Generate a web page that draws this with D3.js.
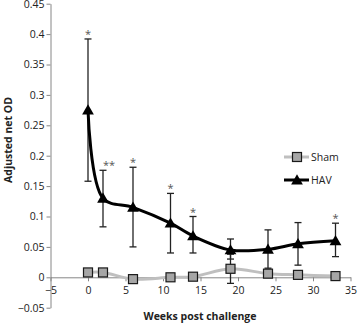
<!DOCTYPE html>
<html>
<head>
<meta charset="utf-8">
<script src="https://cdn.jsdelivr.net/npm/d3@7"></script>
<style>
  body { margin: 0; background: #fff; }
  text { font-family: "Open Sans", "Liberation Sans", sans-serif; }
</style>
</head>
<body>
<div id="chart"></div>
<script>
let weeks = [0, 2, 6, 11, 14, 19, 24, 28, 33]

let havValues = [0.275, 0.13, 0.115, 0.089, 0.068, 0.045, 0.046, 0.055, 0.06]
let havUpper = [0.392, 0.176, 0.181, 0.138, 0.1, 0.063, 0.078, 0.09, 0.089]
let havLower = [0.158, 0.083, 0.05, 0.04, 0.04, 0.03, 0.015, 0.02, 0.034]
let havStars = ["*", "**", "*", "*", "*", "", "", "", "*"]

let shamValues = [0.008, 0.008, -0.003, 0, 0.001, 0.014, 0.006, 0.004, 0.002]
let shamUpper = [0.008, 0.008, -0.003, 0, 0.001, 0.038, 0.006, 0.004, 0.002]
let shamLower = [0.008, 0.008, -0.003, 0, 0.001, -0.01, 0.006, 0.004, 0.002]

let xTicks = [-5, 0, 5, 10, 15, 20, 25, 30, 35]
let yTicks = [-0.05, 0, 0.05, 0.1, 0.15, 0.2, 0.25, 0.3, 0.35, 0.4, 0.45]

const width = 358, height = 323

const svg = d3.select('#chart')
    .append('svg')
    .attr('width', width)
    .attr('height', height)

const x = d3.scaleLinear().domain([-5, 35]).range([50.5, 350.5])
const y = d3.scaleLinear().domain([-0.05, 0.45]).range([307.7, 3.7])

const axisColor = '#868686'

// y axis
const yAxis = svg.append('g')
    .attr('transform', `translate(${x(-5)},0)`)
    .call(d3.axisLeft(y).tickValues(yTicks).tickSize(4).tickSizeOuter(0)
        .tickFormat(d => d3.format('')(+d.toFixed(2))))
yAxis.select('.domain').attr('stroke', axisColor)
yAxis.selectAll('.tick line').attr('stroke', axisColor)
yAxis.selectAll('.tick text')
    .attr('font-size', 10.5)
    .attr('fill', '#222')
    .attr('x', -6)

// x axis along zero
const xAxis = svg.append('g')
    .attr('transform', `translate(0,${y(0)})`)
    .call(d3.axisBottom(x).tickValues(xTicks).tickSize(4).tickSizeOuter(0))
xAxis.select('.domain').attr('stroke', axisColor)
xAxis.selectAll('.tick line').attr('stroke', axisColor)
xAxis.selectAll('.tick text')
    .attr('font-size', 10.5)
    .attr('fill', '#222')
    .attr('y', 9)

// axis titles
svg.append('text')
    .text('Weeks post challenge')
    .attr('x', 200)
    .attr('y', 320)
    .attr('text-anchor', 'middle')
    .attr('font-size', 10.5)
    .attr('font-weight', 'bold')
    .attr('fill', '#222')

svg.append('text')
    .text('Adjusted net OD')
    .attr('transform', 'translate(12,140) rotate(-90)')
    .attr('text-anchor', 'middle')
    .attr('font-size', 10.5)
    .attr('font-weight', 'bold')
    .attr('fill', '#222')

const line = d3.line()
    .x(d => x(d[0]))
    .y(d => y(d[1]))
    .curve(d3.curveCatmullRom)

const sham = weeks.map((w, i) => ({ w: w, v: shamValues[i], hi: shamUpper[i], lo: shamLower[i] }))
const hav = weeks.map((w, i) => ({ w: w, v: havValues[i], hi: havUpper[i], lo: havLower[i], star: havStars[i] }))

function drawErrors(data, cls) {
    const g = svg.append('g').attr('class', cls)
    data.filter(d => d.hi !== d.lo).forEach(d => {
        g.append('line')
            .attr('x1', x(d.w)).attr('x2', x(d.w))
            .attr('y1', y(d.hi)).attr('y2', y(d.lo))
            .attr('stroke', '#222').attr('stroke-width', 1.3)
        ;[d.hi, d.lo].forEach(v => {
            g.append('line')
                .attr('x1', x(d.w) - 3.5).attr('x2', x(d.w) + 3.5)
                .attr('y1', y(v)).attr('y2', y(v))
                .attr('stroke', '#222').attr('stroke-width', 1.3)
        })
    })
}

// sham series
svg.append('path')
    .datum(sham.map(d => [d.w, d.v]))
    .attr('d', line)
    .attr('fill', 'none')
    .attr('stroke', '#bfbfbf')
    .attr('stroke-width', 3)

drawErrors(sham, 'sham-err')
drawErrors(hav, 'hav-err')

svg.append('g')
    .selectAll('rect')
    .data(sham)
    .join('rect')
    .attr('x', d => x(d.w) - 4.5)
    .attr('y', d => y(d.v) - 4.5)
    .attr('width', 9)
    .attr('height', 9)
    .attr('fill', '#a6a6a6')
    .attr('stroke', '#1a1a1a')
    .attr('stroke-width', 1.2)

// hav series
svg.append('path')
    .datum(hav.map(d => [d.w, d.v]))
    .attr('d', line)
    .attr('fill', 'none')
    .attr('stroke', '#000')
    .attr('stroke-width', 3)

const tri = d3.symbol().type(d3.symbolTriangle).size(60)

svg.append('g')
    .selectAll('path')
    .data(hav)
    .join('path')
    .attr('d', tri)
    .attr('transform', d => `translate(${x(d.w)},${y(d.v) + 1})`)
    .attr('fill', '#000')

// significance marks
svg.append('g')
    .selectAll('text')
    .data(hav.filter(d => d.star))
    .join('text')
    .text(d => d.star)
    .attr('x', d => x(d.w) + (d.star.length > 1 ? 6 : 0))
    .attr('y', d => y(d.hi) - 1)
    .attr('text-anchor', 'middle')
    .attr('font-size', 11)
    .attr('fill', '#555')

// legend
const legend = svg.append('g')
const items = [
    { name: 'Sham', y: 157 },
    { name: 'HAV', y: 180 }
]
items.forEach(it => {
    legend.append('line')
        .attr('x1', 284).attr('x2', 309)
        .attr('y1', it.y).attr('y2', it.y)
        .attr('stroke', it.name === 'Sham' ? '#bfbfbf' : '#000')
        .attr('stroke-width', 3)
    if (it.name === 'Sham') {
        legend.append('rect')
            .attr('x', 292.5).attr('y', it.y - 4.5)
            .attr('width', 9).attr('height', 9)
            .attr('fill', '#a6a6a6').attr('stroke', '#1a1a1a').attr('stroke-width', 1.2)
    } else {
        legend.append('path')
            .attr('d', tri)
            .attr('transform', `translate(297,${it.y + 1})`)
            .attr('fill', '#000')
    }
    legend.append('text')
        .text(it.name)
        .attr('x', 311)
        .attr('y', it.y + 4)
        .attr('font-size', 10.5)
        .attr('fill', '#222')
})
</script>
</body>
</html>
